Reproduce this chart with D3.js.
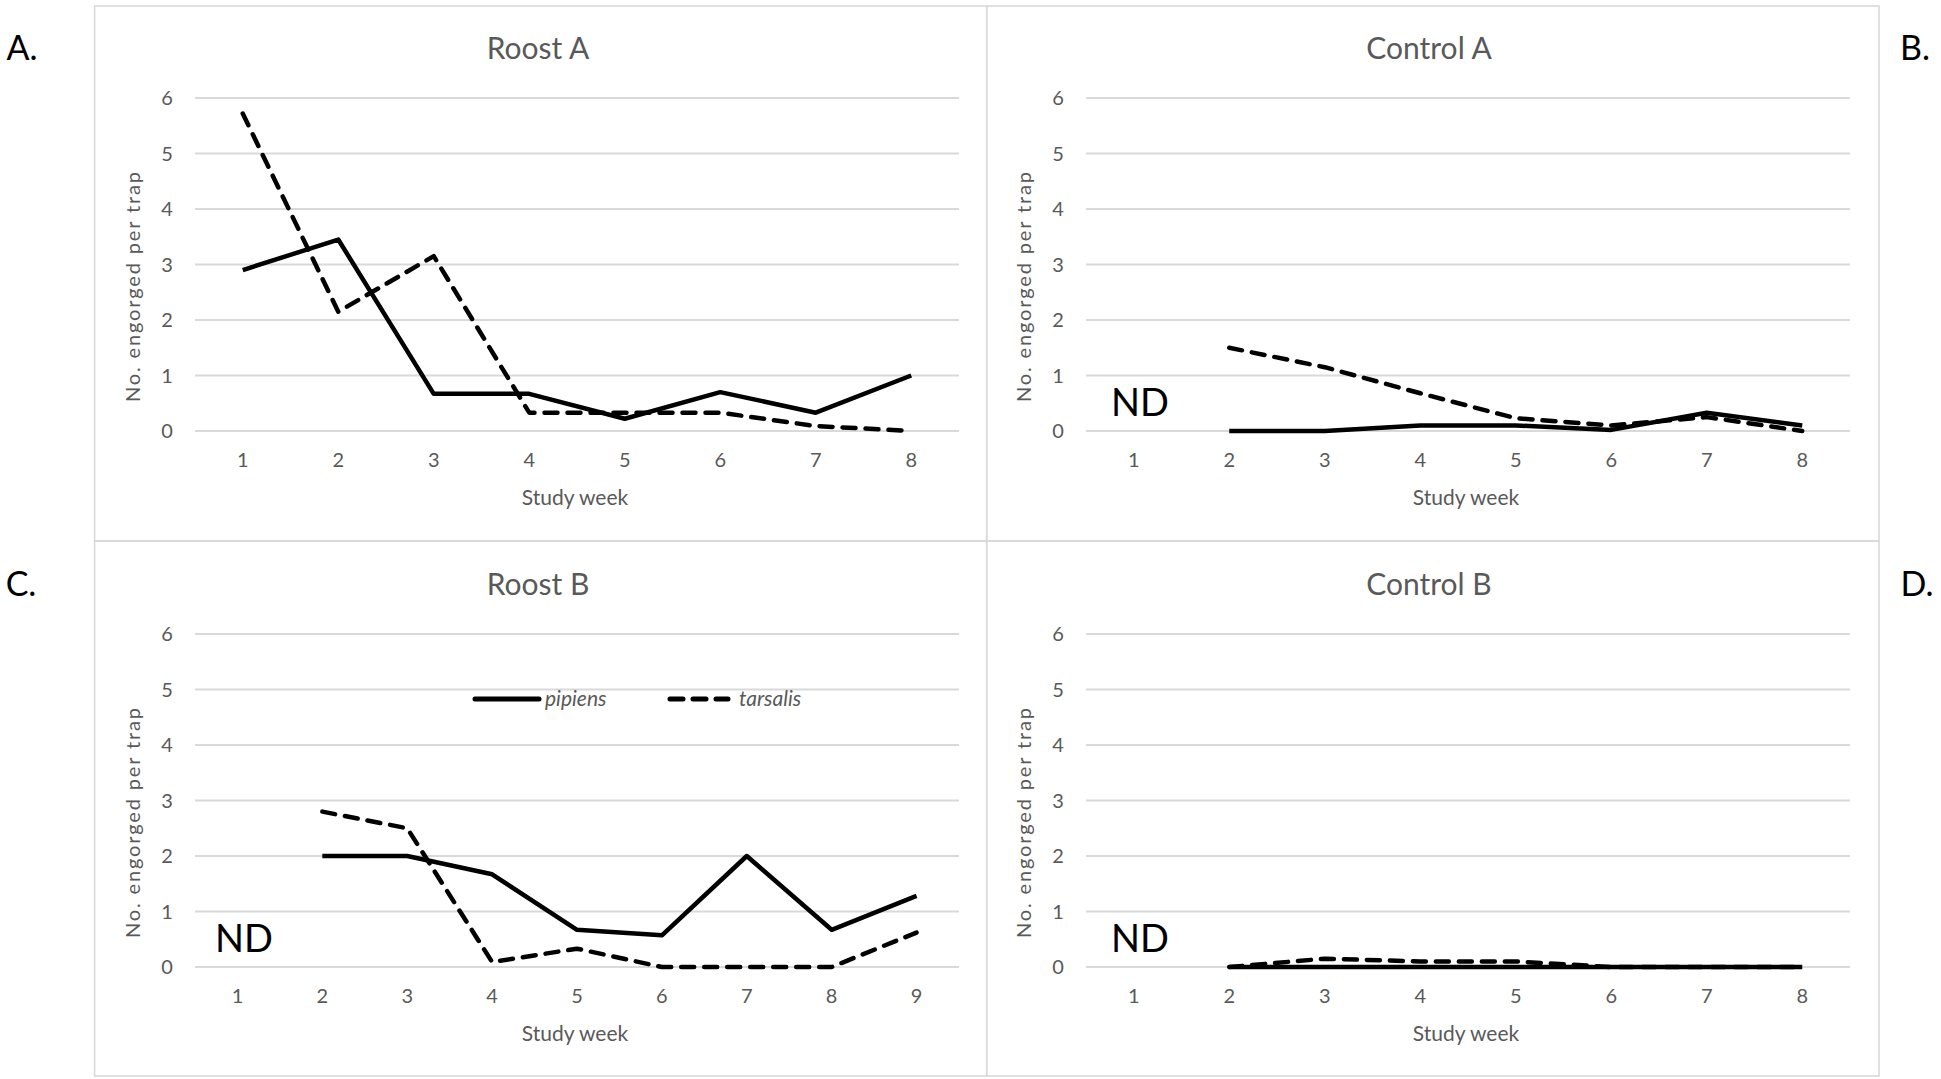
<!DOCTYPE html>
<html>
<head>
<meta charset="utf-8">
<script src="https://cdn.jsdelivr.net/npm/d3@7"></script>
<style>
  body { margin: 0; background: #fff; }
  svg { display: block; }
  .tick-lbl, .ax-title, .panel-title, .legend-lbl { font-family: Lato, "Open Sans", sans-serif; fill: #595959; }
</style>
</head>
<body>
<div id="chart"></div>
<script>
  var weeksAB = [1, 2, 3, 4, 5, 6, 7, 8];
  var weeksC = [1, 2, 3, 4, 5, 6, 7, 8, 9];
  var yTicks = [0, 1, 2, 3, 4, 5, 6];

  // per-panel series, [week, value]
  var roostA_pipiens = [[1, 2.9], [2, 3.45], [3, 0.67], [4, 0.67], [5, 0.22], [6, 0.7], [7, 0.33], [8, 1.0]];
  var roostA_tarsalis = [[1, 5.72], [2, 2.15], [3, 3.15], [4, 0.33], [5, 0.33], [6, 0.33], [7, 0.09], [8, 0.0]];
  var controlA_pipiens = [[2, 0], [3, 0], [4, 0.1], [5, 0.1], [6, 0.02], [7, 0.33], [8, 0.1]];
  var controlA_tarsalis = [[2, 1.5], [3, 1.15], [4, 0.68], [5, 0.23], [6, 0.1], [7, 0.25], [8, 0.0]];
  var roostB_pipiens = [[2, 2.0], [3, 2.0], [4, 1.67], [5, 0.67], [6, 0.57], [7, 2.0], [8, 0.67], [9, 1.28]];
  var roostB_tarsalis = [[2, 2.8], [3, 2.5], [4, 0.09], [5, 0.33], [6, 0], [7, 0], [8, 0], [9, 0.62]];
  var controlB_pipiens = [[2, 0], [3, 0], [4, 0], [5, 0], [6, 0], [7, 0], [8, 0]];
  var controlB_tarsalis = [[2, 0], [3, 0.15], [4, 0.1], [5, 0.1], [6, 0], [7, 0], [8, 0]];

  var panels = [
    {title: "Roost A", tag: "A.", weeks: weeksAB, pip: roostA_pipiens, tar: roostA_tarsalis, nd: false, legend: false,
     box: [94.6, 6, 986.7, 541], left: 195, right: 959, dy: 0, tagX: 22},
    {title: "Control A", tag: "B.", weeks: weeksAB, pip: controlA_pipiens, tar: controlA_tarsalis, nd: true, legend: false,
     box: [986.7, 6, 1879, 541], left: 1086, right: 1850, dy: 0, tagX: 1915},
    {title: "Roost B", tag: "C.", weeks: weeksC, pip: roostB_pipiens, tar: roostB_tarsalis, nd: true, legend: true,
     box: [94.6, 541, 986.7, 1076], left: 195, right: 959, dy: 536, tagX: 21},
    {title: "Control B", tag: "D.", weeks: weeksAB, pip: controlB_pipiens, tar: controlB_tarsalis, nd: true, legend: false,
     box: [986.7, 541, 1879, 1076], left: 1086, right: 1850, dy: 536, tagX: 1917}
  ];

  var svg = d3.select("#chart").append("svg")
    .attr("width", 1941).attr("height", 1079);

  var dash = "13,10";

  panels.forEach(function(p) {
    var g = svg.append("g");
    var y0 = 431 + p.dy, y6 = 98 + p.dy;

    g.append("rect")
      .attr("x", p.box[0]).attr("y", p.box[1])
      .attr("width", p.box[2] - p.box[0]).attr("height", p.box[3] - p.box[1])
      .attr("fill", "none").attr("stroke", "#d9d9d9").attr("stroke-width", 1.6);

    var x = d3.scalePoint().domain(p.weeks).range([p.left, p.right]).padding(0.5);
    var y = d3.scaleLinear().domain([0, 6]).range([y0, y6]);

    // gridlines
    g.selectAll(".grid").data(yTicks).enter().append("line")
      .attr("x1", p.left).attr("x2", p.right)
      .attr("y1", function(d) { return y(d); }).attr("y2", function(d) { return y(d); })
      .attr("stroke", "#d9d9d9").attr("stroke-width", 2);

    g.selectAll(".ylbl").data(yTicks).enter().append("text")
      .attr("class", "tick-lbl")
      .attr("x", p.left - 28).attr("y", function(d) { return y(d); })
      .attr("dy", "0.35em").attr("text-anchor", "middle")
      .attr("font-size", 20).text(function(d) { return d; });

    g.selectAll(".xlbl").data(p.weeks).enter().append("text")
      .attr("class", "tick-lbl")
      .attr("x", function(d) { return x(d); }).attr("y", 460 + p.dy)
      .attr("dy", "0.35em").attr("text-anchor", "middle")
      .attr("font-size", 20).text(function(d) { return d; });

    g.append("text").attr("class", "ax-title")
      .attr("x", (p.left + p.right) / 2 - 2).attr("y", 498 + p.dy)
      .attr("dy", "0.35em").attr("text-anchor", "middle")
      .attr("font-size", 21).text("Study week");

    g.append("text").attr("class", "ax-title")
      .attr("transform", "translate(" + (p.left - 62) + "," + (287 + p.dy) + ") rotate(-90)")
      .attr("dy", "0.35em").attr("text-anchor", "middle")
      .attr("textLength", 230).attr("lengthAdjust", "spacing")
      .attr("font-size", 20).text("No. engorged per trap");

    g.append("text").attr("class", "panel-title")
      .attr("x", (p.left + p.right) / 2 - 39).attr("y", 48 + p.dy)
      .attr("dy", "0.35em").attr("text-anchor", "middle")
      .attr("font-size", 30).text(p.title);

    g.append("text")
      .attr("x", p.tagX).attr("y", 48 + p.dy)
      .attr("dy", "0.35em").attr("text-anchor", "middle")
      .attr("font-family", "Lato, Open Sans, sans-serif")
      .attr("font-size", 34).attr("fill", "#000").text(p.tag);

    if (p.nd) {
      g.append("text")
        .attr("x", p.left === 195 ? 244 : 1140).attr("y", 403 + p.dy)
        .attr("dy", "0.35em").attr("text-anchor", "middle")
        .attr("font-family", "Lato, Open Sans, sans-serif")
        .attr("font-size", 38).attr("fill", "#000").text("ND");
    }

    var line = d3.line()
      .x(function(d) { return x(d[0]); })
      .y(function(d) { return y(d[1]); });

    g.append("path").datum(p.tar)
      .attr("d", line).attr("fill", "none")
      .attr("stroke", "#000").attr("stroke-width", 4.5)
      .attr("stroke-dasharray", dash).attr("stroke-linecap", "round")
      .attr("stroke-linejoin", "round");

    g.append("path").datum(p.pip)
      .attr("d", line).attr("fill", "none")
      .attr("stroke", "#000").attr("stroke-width", 4.5)
      .attr("stroke-linejoin", "round");

    if (p.legend) {
      var ly = 699 - 536 + p.dy;
      g.append("line").attr("x1", 475).attr("x2", 539).attr("y1", ly).attr("y2", ly)
        .attr("stroke", "#000").attr("stroke-width", 5).attr("stroke-linecap", "round");
      g.append("text").attr("class", "legend-lbl")
        .attr("x", 545).attr("y", ly).attr("dy", "0.35em")
        .attr("font-size", 21).attr("font-style", "italic").text("pipiens");
      g.append("line").attr("x1", 670).attr("x2", 728).attr("y1", ly).attr("y2", ly)
        .attr("stroke", "#000").attr("stroke-width", 5).attr("stroke-linecap", "round")
        .attr("stroke-dasharray", dash);
      g.append("text").attr("class", "legend-lbl")
        .attr("x", 739).attr("y", ly).attr("dy", "0.35em")
        .attr("font-size", 21).attr("font-style", "italic").text("tarsalis");
    }
  });
</script>
</body>
</html>
